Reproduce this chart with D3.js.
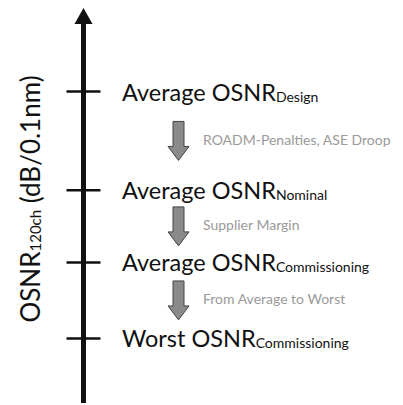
<!DOCTYPE html>
<html>
<head>
<meta charset="utf-8">
<script src="https://cdn.jsdelivr.net/npm/d3@7"></script>
<style>
  html, body { margin: 0; padding: 0; background: #fff; }
  svg { display: block; font-family: Lato, "Open Sans", sans-serif; }
</style>
</head>
<body>
<div id="chart"></div>
<script>
// levels on the OSNR axis (values are relative dB positions)
var levelMain = ["Average OSNR", "Average OSNR", "Average OSNR", "Worst OSNR"];
var levelSub = ["Design", "Nominal", "Commissioning", "Commissioning"];
var levelValue = [24, 21.4, 19.5, 17.5];

// reasons between two neighbouring levels
var stepLabels = ["ROADM-Penalties, ASE Droop", "Supplier Margin", "From Average to Worst"];

var width = 403;
var height = 405;

var svg = d3
  .select("#chart")
  .append("svg")
  .attr("width", width)
  .attr("height", height);

var y = d3.scaleLinear().domain([15.8, 26.2]).range([403, 8]);
var axisX = 83.5;

// axis line + arrow head
var tipY = y(26.2);
var headBase = tipY + 16;
svg
  .append("line")
  .attr("x1", axisX)
  .attr("x2", axisX)
  .attr("y1", y(15.8))
  .attr("y2", headBase)
  .attr("stroke", "#111")
  .attr("stroke-width", 5);

svg
  .append("path")
  .attr("d", "M" + axisX + "," + tipY + "L" + (axisX + 9) + "," + headBase + "L" + (axisX - 9) + "," + headBase + "Z")
  .attr("fill", "#111");

// ticks
svg
  .selectAll("line.tick")
  .data(levelValue)
  .enter()
  .append("line")
  .attr("class", "tick")
  .attr("x1", axisX - 17)
  .attr("x2", axisX + 17)
  .attr("y1", function (d) { return y(d); })
  .attr("y2", function (d) { return y(d); })
  .attr("stroke", "#111")
  .attr("stroke-width", 2.5);

// level labels
var lab = svg
  .selectAll("text.level")
  .data(levelValue)
  .enter()
  .append("text")
  .attr("class", "level")
  .attr("x", 122)
  .attr("y", function (d) { return y(d) + 9; })
  .attr("fill", "#111")
  .style("font-size", "23.5px");

lab.append("tspan").text(function (d, i) { return levelMain[i]; });
lab
  .append("tspan")
  .attr("dy", 1)
  .style("font-size", "14px")
  .text(function (d, i) { return levelSub[i]; });

// block arrows between levels
var steps = d3.pairs(levelValue).map(function (p, i) {
  return { mid: (y(p[0]) + y(p[1])) / 2, label: stepLabels[i] };
});

function blockArrow(cx, top, bottom) {
  var sw = 5.5, hw = 10.5, hl = 14;
  var hy = bottom - hl;
  return "M" + (cx - sw) + "," + top +
    "L" + (cx + sw) + "," + top +
    "L" + (cx + sw) + "," + hy +
    "L" + (cx + hw) + "," + hy +
    "L" + cx + "," + bottom +
    "L" + (cx - hw) + "," + hy +
    "L" + (cx - sw) + "," + hy + "Z";
}

svg
  .selectAll("path.step")
  .data(steps)
  .enter()
  .append("path")
  .attr("class", "step")
  .attr("d", function (d) { return blockArrow(178.5, d.mid - 19.5, d.mid + 19.5); })
  .attr("fill", "#8a8a8a")
  .attr("stroke", "#444")
  .attr("stroke-width", 1);

svg
  .selectAll("text.step")
  .data(steps)
  .enter()
  .append("text")
  .attr("class", "step")
  .attr("x", 203)
  .attr("y", function (d) { return d.mid + 4; })
  .attr("fill", "#9a9a9a")
  .style("font-size", "14px")
  .text(function (d) { return d.label; });

// y axis title
var title = svg
  .append("text")
  .attr("transform", "translate(40," + 199 + ") rotate(-90)")
  .attr("text-anchor", "middle")
  .attr("fill", "#111")
  .style("font-size", "26px");
title.append("tspan").text("OSNR");
title.append("tspan").style("font-size", "15px").attr("dy", 1).text("120ch");
title.append("tspan").attr("dy", -1).text(" (dB/0.1nm)");
</script>
</body>
</html>
